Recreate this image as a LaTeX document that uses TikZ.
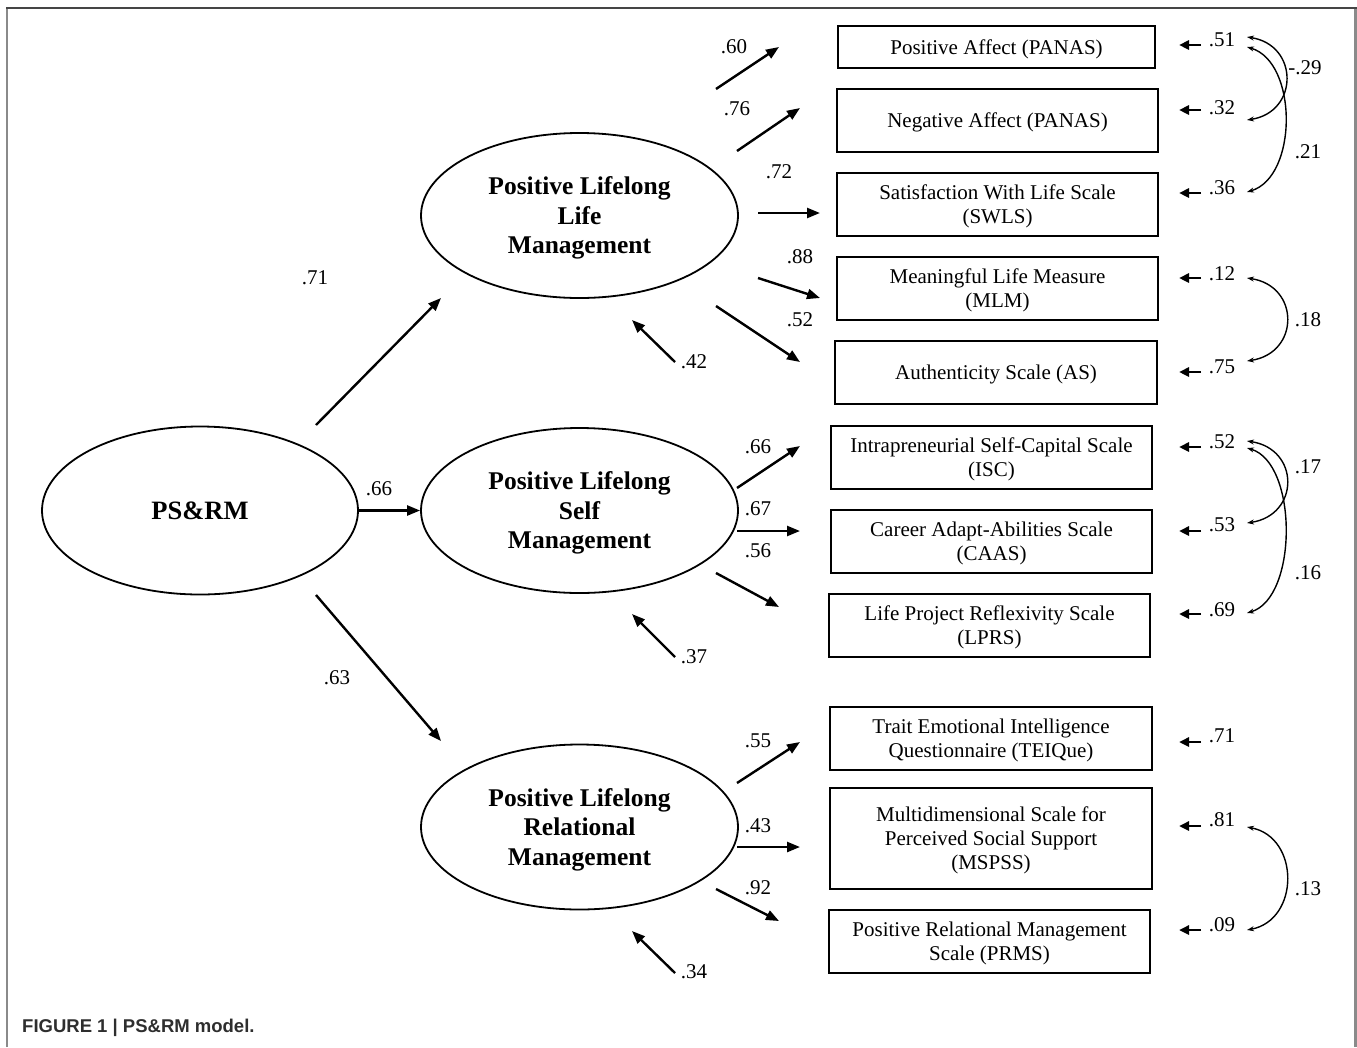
\documentclass[tikz,border=0pt]{standalone}
\usepackage{fontspec}
\setmainfont{Liberation Serif}
\newfontfamily\capfont{Liberation Sans}
\usetikzlibrary{shapes.geometric,arrows.meta}
\definecolor{framedark}{HTML}{454545}
\definecolor{framegray}{HTML}{8A8A8A}
\definecolor{captext}{HTML}{2E2E2E}
\tikzset{
 latent/.style={ellipse, draw, line width=1.8pt, inner sep=0pt, align=center,
   minimum width=317pt, minimum height=165pt, text depth=0pt,
   font=\fontsize{25.5}{29.5}\selectfont\bfseries},
 obs/.style={rectangle, draw, line width=1.8pt, inner sep=0pt, align=center,
   font=\fontsize{21}{24}\selectfont, text depth=0pt},
 num/.style={inner sep=0pt, font=\fontsize{21}{24}\selectfont},
 pathar/.style={line width=2.4pt, -{Triangle[length=13pt,width=10pt]}},
 errar/.style={line width=2.6pt, -{Triangle[length=10pt,width=9pt]}},
 covar/.style={line width=1.4pt, {Stealth[length=7pt,width=5pt]}-{Stealth[length=7pt,width=5pt]}},
}
\begin{document}
\begin{tikzpicture}[x=1pt,y=-1pt]
\useasboundingbox (0,0) rectangle (1357,1047);
% frame
\draw[framegray, line width=2.5pt] (7,1047) -- (7,8);
\draw[framegray, line width=2.5pt] (1355.5,8) -- (1355.5,1047);
\draw[framedark, line width=2pt] (6,8) -- (1356.5,8);

% latent variables
\node[latent, text depth=, minimum width=316pt, minimum height=168pt, font=\fontsize{26.5}{30}\selectfont\bfseries] (PS) at (200,510.5) {PS\&RM};
\node[latent] (LM) at (579.5,215.5) {Positive Lifelong\\Life\\Management};
\node[latent] (SM) at (579.5,510.5) {Positive Lifelong\\Self\\Management};
\node[latent] (RM) at (579.5,827) {Positive Lifelong\\Relational\\Management};

% observed variables
\node[obs, minimum width=317pt, minimum height=42pt] (b1) at (996.5,47) {Positive Affect (PANAS)};
\node[obs, minimum width=321pt, minimum height=63pt] (b2) at (997.5,120.5) {Negative Affect (PANAS)};
\node[obs, minimum width=321pt, minimum height=63pt] (b3) at (997.5,204.5) {Satisfaction With Life Scale\\(SWLS)};
\node[obs, minimum width=321pt, minimum height=63pt] (b4) at (997.5,288.5) {Meaningful Life Measure\\(MLM)};
\node[obs, minimum width=322pt, minimum height=63pt] (b5) at (996,372.5) {Authenticity Scale (AS)};
\node[obs, minimum width=321pt, minimum height=63pt] (b6) at (991.5,457.5) {Intrapreneurial Self-Capital Scale\\(ISC)};
\node[obs, minimum width=321pt, minimum height=63pt] (b7) at (991.5,541.5) {Career Adapt-Abilities Scale\\(CAAS)};
\node[obs, minimum width=321pt, minimum height=63pt] (b8) at (989.5,625.5) {Life Project Reflexivity Scale\\(LPRS)};
\node[obs, minimum width=322pt, minimum height=63pt] (b9) at (991,738.5) {Trait Emotional Intelligence\\Questionnaire (TEIQue)};
\node[obs, minimum width=322pt, minimum height=101pt] (b10) at (991,838.5) {Multidimensional Scale for\\Perceived Social Support\\(MSPSS)};
\node[obs, minimum width=321pt, minimum height=63pt] (b11) at (989.5,941.5) {Positive Relational Management\\Scale (PRMS)};

% structural paths
\coordinate (s71a) at (316,425); \coordinate (s71b) at (441,298);
\coordinate (s63a) at (316,595); \coordinate (s63b) at (441,741);
\draw[pathar] (s71a) -- (s71b);
\draw[pathar] (PS) -- (SM);
\draw[pathar] (s63a) -- (s63b);
\node[num] (n71) at (315,278) {.71};
\node[num] (n66s) at (379,489) {.66};
\node[num] (n63) at (337,678) {.63};

% loadings: life
\coordinate (l1a) at (716,89);  \coordinate (l1b) at (779,47);
\coordinate (l2a) at (737,151); \coordinate (l2b) at (800,108);
\coordinate (l3a) at (758,213); \coordinate (l3b) at (820,213);
\coordinate (l4a) at (758,278); \coordinate (l4b) at (820,298);
\coordinate (l5a) at (716,306); \coordinate (l5b) at (800,362);
\foreach \i in {1,...,5} {\draw[pathar] (l\i a) -- (l\i b);}
\node[num] (n60) at (734,47) {.60};
\node[num] (n76) at (737,109) {.76};
\node[num] (n72) at (779,172) {.72};
\node[num] (n88) at (800,257) {.88};
\node[num] (n52l) at (800,320) {.52};

% loadings: self
\coordinate (m1a) at (737,488); \coordinate (m1b) at (800,446);
\coordinate (m2a) at (737,531); \coordinate (m2b) at (800,531);
\coordinate (m3a) at (716,573); \coordinate (m3b) at (779,607);
\foreach \i in {1,2,3} {\draw[pathar] (m\i a) -- (m\i b);}
\node[num] (n66) at (758,447) {.66};
\node[num] (n67) at (758,509) {.67};
\node[num] (n56) at (758,551) {.56};

% loadings: relational
\coordinate (r1a) at (737,783); \coordinate (r1b) at (800,742);
\coordinate (r2a) at (737,847); \coordinate (r2b) at (800,847);
\coordinate (r3a) at (716,889); \coordinate (r3b) at (779,921);
\foreach \i in {1,2,3} {\draw[pathar] (r\i a) -- (r\i b);}
\node[num] (n55) at (758,741) {.55};
\node[num] (n43) at (758,826) {.43};
\node[num] (n92) at (758,888) {.92};

% disturbances
\coordinate (d1a) at (675,362); \coordinate (d1b) at (632,320);
\coordinate (d2a) at (675,657); \coordinate (d2b) at (632,614);
\coordinate (d3a) at (675,973); \coordinate (d3b) at (632,931);
\foreach \i in {1,2,3} {\draw[pathar] (d\i a) -- (d\i b);}
\node[num] (n42) at (694,362) {.42};
\node[num] (n37) at (694,657) {.37};
\node[num] (n34) at (694,972) {.34};

% error terms
\foreach \k/\ya/\yl/\v in {1/45/40/.51, 2/110/108/.32, 3/193/188/.36, 4/278/274/.12, 5/372/367/.75,
   6/447/442/.52, 7/531/525/.53, 8/614/610/.69, 9/742/736/.71, 10/826/820/.81, 11/930/925/.09} {
  \coordinate (e\k a) at (1201,\ya);
  \coordinate (e\k b) at (1179,\ya);
  \draw[errar] (e\k a) -- (e\k b);
  \node[num] (v\k) at (1222,\yl) {\v};
}

% covariances
\coordinate (c1a) at (1247,37);  \coordinate (c1b) at (1247,120);
\coordinate (c2a) at (1247,47);  \coordinate (c2b) at (1247,192);
\coordinate (c3a) at (1247,278); \coordinate (c3b) at (1247,361);
\coordinate (c4a) at (1247,441); \coordinate (c4b) at (1247,523);
\coordinate (c5a) at (1247,448); \coordinate (c5b) at (1247,613);
\coordinate (c6a) at (1247,827); \coordinate (c6b) at (1247,930);
\draw[covar] (c1a) .. controls (1299,45) and (1299,112) .. (c1b);
\draw[covar] (c2a) .. controls (1298,62) and (1298,177) .. (c2b);
\draw[covar] (c3a) .. controls (1300,286) and (1300,353) .. (c3b);
\draw[covar] (c4a) .. controls (1300,449) and (1300,515) .. (c4b);
\draw[covar] (c5a) .. controls (1298,463) and (1298,598) .. (c5b);
\draw[covar] (c6a) .. controls (1300,837) and (1300,920) .. (c6b);
\node[num] (k29) at (1305,68) {-.29};
\node[num] (k21) at (1308,152) {.21};
\node[num] (k18) at (1308,320) {.18};
\node[num] (k17) at (1308,467) {.17};
\node[num] (k16) at (1308,573) {.16};
\node[num] (k13) at (1308,889) {.13};

% caption
\node[anchor=west, inner sep=0pt, text=captext, font=\capfont\bfseries\fontsize{18.5}{20}\selectfont] (cap) at (22,1028) {FIGURE 1 | PS\&RM model.};
\end{tikzpicture}
\end{document}
